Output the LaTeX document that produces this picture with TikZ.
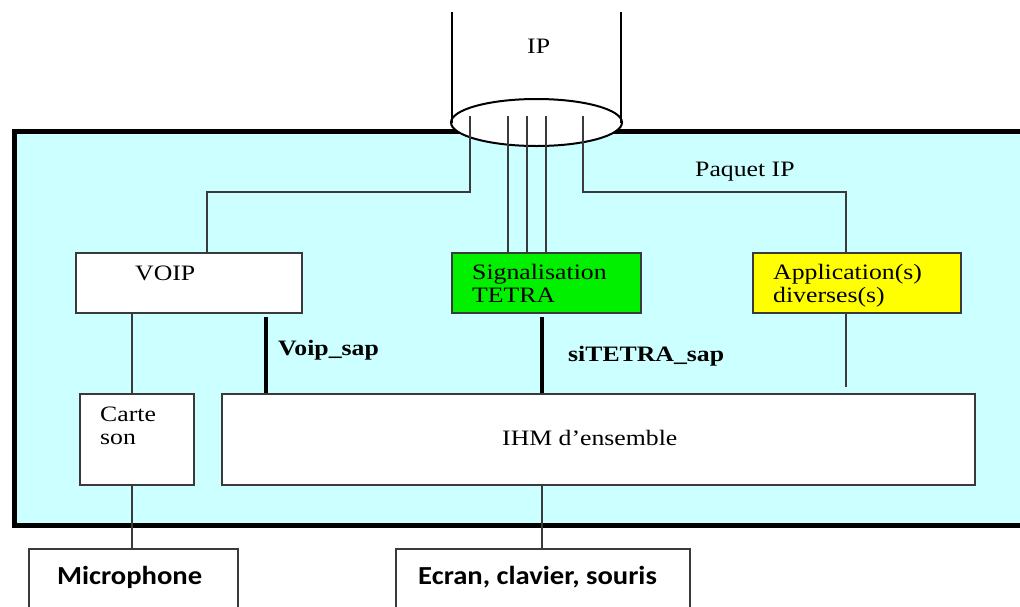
\documentclass[tikz,border=0pt]{standalone}
\usepackage{fontspec}
\setmainfont{Liberation Serif}[FakeStretch=1.17]
\newfontfamily\calib{Carlito}[FakeStretch=1.1]
\usetikzlibrary{shapes.geometric,calc}
\definecolor{bgcyan}{HTML}{CCFFFF}
\definecolor{tgreen}{HTML}{00F000}
\definecolor{tyellow}{HTML}{FFFF00}
\definecolor{lgray}{HTML}{3A3A3A}
\begin{document}
\begin{tikzpicture}[x=1pt,y=-1pt,
  box/.style={draw=lgray,line width=1.8pt,fill=white,inner sep=0pt,anchor=north west},
  wire/.style={draw=lgray,line width=1.6pt},
  sapline/.style={draw=black,line width=4pt},
  lbl/.style={inner sep=0pt,anchor=base west,font=\fontsize{22}{23}\selectfont},
  mlbl/.style={inner sep=0pt,anchor=north west,align=left,font=\fontsize{22}{23}\selectfont},
  extlbl/.style={inner sep=0pt,anchor=base west,font=\calib\bfseries\fontsize{26}{28}\selectfont},
]
\useasboundingbox (0,0) rectangle (1020,606);
\clip (0,0) rectangle (1020,606);
\fill[white] (0,0) rectangle (1020,606);
% main enclosure
\node[draw=black,line width=4.5pt,fill=bgcyan,inner sep=0pt,anchor=north west,
      minimum width=1030pt,minimum height=394pt] (main) at (12,129) {};
% IP cylinder
\coordinate (cl) at (452,12);
\coordinate (cr) at (621,12);
\node[ellipse,draw=black,line width=2pt,fill=white,inner sep=0pt,
      minimum width=171pt,minimum height=47pt] (ipell) at (536.5,122.5) {};
\draw[line width=2.4pt] (cl) -- (cl |- ipell.west);
\draw[line width=2.4pt] (cr) -- (cr |- ipell.east);
% boxes
\node[box,minimum width=226pt,minimum height=60pt] (voip) at (75,252) {};
\node[box,fill=tgreen,minimum width=189pt,minimum height=60pt] (sig) at (451,252) {};
\node[box,fill=tyellow,minimum width=208pt,minimum height=60pt] (app) at (752,252) {};
\node[box,minimum width=114pt,minimum height=91pt] (carte) at (79,393) {};
\node[box,minimum width=753pt,minimum height=91pt] (ihm) at (221,393) {};
\node[box,minimum width=209pt,minimum height=80pt] (micro) at (28,548) {};
\node[box,minimum width=294pt,minimum height=80pt] (ecran) at (395,548) {};
% ellipse wires
\coordinate (e1) at (470,116);
\coordinate (e2) at (508,116);
\coordinate (e3) at (527,116);
\coordinate (e4) at (546,116);
\coordinate (e5) at (583,116);
\draw[wire] (e1) -- ++(0,76) -| ($(voip.north west)+(132,0)$);
\draw[wire] (e5) -- ++(0,76) -| ($(app.north west)+(94,0)$);
\draw[wire] (e2) -- (e2 |- sig.north);
\draw[wire] (e3) -- (e3 |- sig.north);
\draw[wire] (e4) -- (e4 |- sig.north);
% other wires
\draw[wire] ($(voip.south west)+(57,0)$) -- ($(carte.north west)+(53,0)$);
\coordinate (cb) at ($(carte.south west)+(53,0)$);
\draw[wire] (cb) -- (cb |- micro.north);
\coordinate (ib) at ($(ihm.south west)+(321,0)$);
\draw[wire] (ib) -- (ib |- ecran.north);
\coordinate (a1) at (846,387);
\draw[wire] ($(app.south west)+(94,0)$) -- (a1);
% SAP lines
\coordinate (s1) at (266,317);
\coordinate (s2) at (542,317);
\draw[sapline] (s1) -- (s1 |- ihm.north);
\draw[sapline] (s2) -- (s2 |- ihm.north);
% labels
\node[lbl] (tip) at (527,53) {IP};
\node[lbl] (tpaq) at (695,176) {Paquet IP};
\node[lbl] (tvoip) at (135,280) {VOIP};
\node[mlbl] (tsig) at (472,264) {Signalisation\\TETRA};
\node[mlbl] (tapp) at (773,264) {Application(s)\\diverses(s)};
\node[lbl,font=\bfseries\fontsize{22}{23}\selectfont] (tvsap) at (278,355) {Voip\_sap};
\node[lbl,font=\bfseries\fontsize{22}{23}\selectfont] (tssap) at (568,361) {siTETRA\_sap};
\node[mlbl] (tcarte) at (100,407) {Carte\\son};
\node[lbl] (tihm) at (502,445) {IHM d’ensemble};
\node[extlbl] (tmic) at (57,584) {Microphone};
\node[extlbl] (tecr) at (418,584) {Ecran, clavier, souris};
\end{tikzpicture}
\end{document}
